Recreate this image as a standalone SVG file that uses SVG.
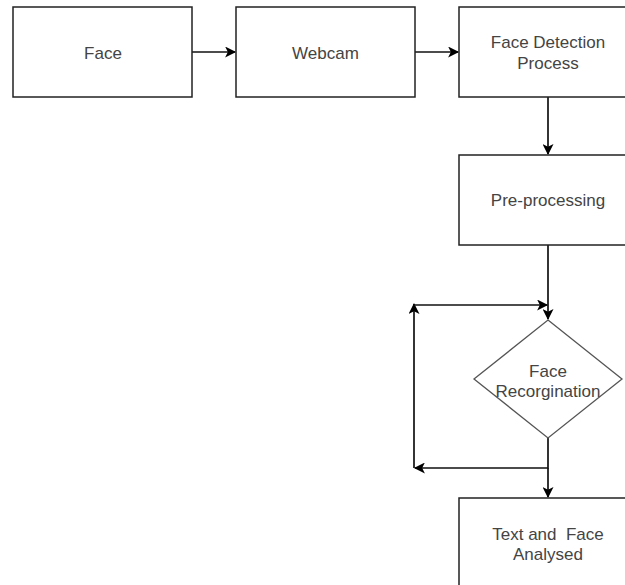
<svg xmlns="http://www.w3.org/2000/svg" width="625" height="585" viewBox="0 0 625 585">
<defs>
<marker id="arr" viewBox="0 0 10 10" refX="9" refY="5" markerWidth="12" markerHeight="11" markerUnits="userSpaceOnUse" orient="auto">
<path d="M0,0 L10,5 L0,10 L2.5,5 Z" fill="#000"/>
</marker>
</defs>
<style>
.box{fill:#fff;stroke:#222;stroke-width:1.5}
.dia{fill:#fff;stroke:#555;stroke-width:1.3}
.lbl{font-family:"Liberation Sans",Arial,sans-serif;font-size:17px;fill:#444;text-anchor:middle}
.edge{fill:none;stroke:#111;stroke-width:1.7;marker-end:url(#arr)}
</style>
<rect width="625" height="585" fill="#fff"/>
<g id="connectors">
<path class="edge" d="M192,52 L235,52"/>
<path class="edge" d="M415,52 L458,52"/>
<path class="edge" d="M548,97 L548,154"/>
<path class="edge" d="M548,245 L548,319"/>
<path class="edge" d="M548,438 L548,468 L415,468"/>
<path class="edge" d="M414,468 L414,304"/>
<path class="edge" d="M414,305 L547,305"/>
<path class="edge" d="M548,468 L548,497"/>
</g>
<g id="face">
<rect class="box" x="13" y="7" width="179" height="90"/>
<text class="lbl" x="103" y="59">Face</text>
</g>
<g id="webcam">
<rect class="box" x="236" y="7" width="179" height="90"/>
<text class="lbl" x="325.5" y="59">Webcam</text>
</g>
<g id="detection">
<rect class="box" x="459" y="7" width="178" height="90"/>
<text class="lbl" x="548" y="48">Face Detection</text>
<text class="lbl" x="548" y="69">Process</text>
</g>
<g id="preprocessing">
<rect class="box" x="459" y="155" width="178" height="90"/>
<text class="lbl" x="548" y="206">Pre-processing</text>
</g>
<g id="recognition">
<path class="dia" d="M548,320 L622,379 L548,438 L474,379 Z"/>
<text class="lbl" x="548" y="377">Face</text>
<text class="lbl" x="548" y="397">Recorgination</text>
</g>
<g id="analysed">
<rect class="box" x="459" y="498" width="178" height="100"/>
<text class="lbl" x="548" y="540" xml:space="preserve">Text and  Face</text>
<text class="lbl" x="548" y="560">Analysed</text>
</g>
</svg>
